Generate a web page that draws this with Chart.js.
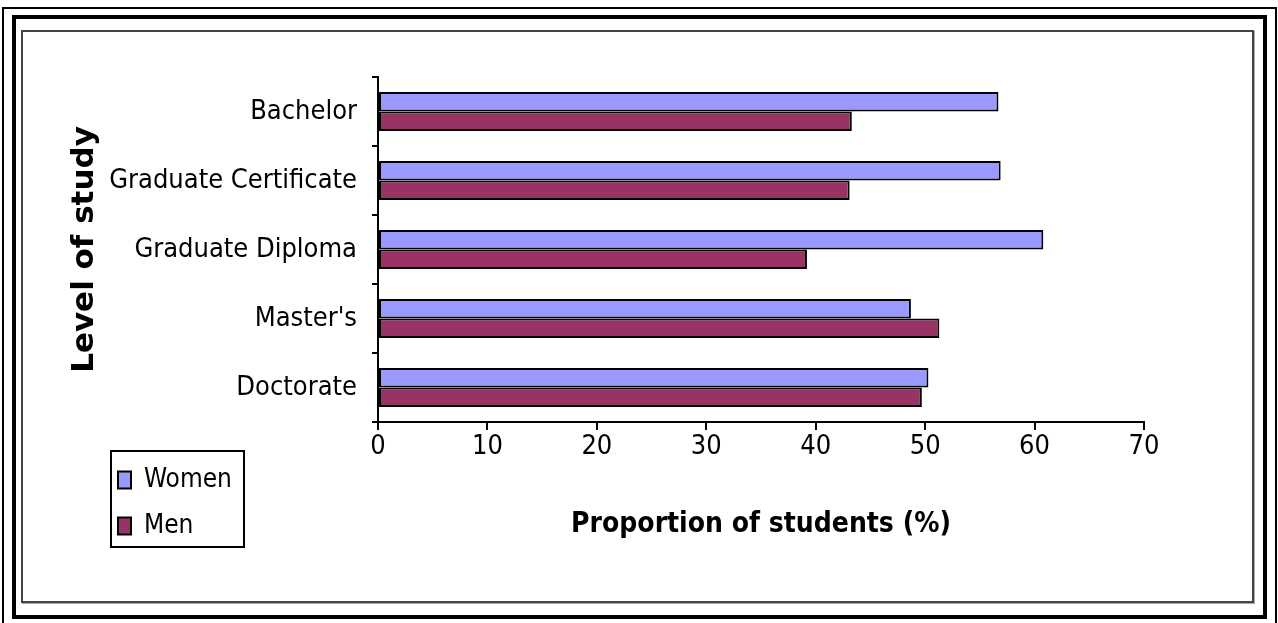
<!DOCTYPE html>
<html>
<head>
<meta charset="utf-8">
<script src="https://cdn.jsdelivr.net/npm/chart.js"></script>
<style>
  html, body { margin: 0; padding: 0; background: #fff; }
  body { width: 1278px; height: 623px; position: relative; overflow: hidden; }
  .frame { position: absolute; box-sizing: border-box; }
  #outer { left: 2px; top: 7px; width: 1275px; height: 630px; border: 2px solid #000; }
  #thick { left: 12px; top: 15px; width: 1255px; height: 604px; border: 4px solid #000; }
  #area { left: 21px; top: 30px; width: 1233px; height: 573px; border: 2px solid #444; box-shadow: 1px 1px 0 #aaa; }
  #chart { position: absolute; left: 0; top: 0; }
</style>
</head>
<body>
<div class="frame" id="outer"></div>
<div class="frame" id="thick"></div>
<div class="frame" id="area"></div>
<canvas id="chart" width="1278" height="623"></canvas>
<script>
const levels = ['Bachelor', 'Graduate Certificate', 'Graduate Diploma', "Master's", 'Doctorate'];
const women = [56.7, 56.9, 60.8, 48.7, 50.3];
const men = [43.3, 43.1, 39.2, 51.3, 49.7];
const xMin = 0;
const xMax = 70;
const xStep = 10;

Chart.defaults.font.family = '"DejaVu Sans Condensed", "DejaVu Sans", sans-serif';
Chart.defaults.color = '#000';

// legend sits in the lower left corner, inside a framed box
const legendSpot = {
  id: 'legendSpot',
  afterLayout(chart) {
    const lg = chart.legend;
    lg.left = 98;
    lg.top = 447;
    lg.right = lg.left + lg.width;
    lg.bottom = lg.top + lg.height;
  },
  afterDraw(chart) {
    const ctx = chart.ctx;
    ctx.save();
    ctx.strokeStyle = '#000';
    ctx.lineWidth = 2;
    ctx.strokeRect(111, 451, 133, 96);
    ctx.restore();
  }
};

new Chart(document.getElementById('chart'), {
  type: 'bar',
  data: {
    labels: levels,
    datasets: [
      {
        label: 'Women',
        data: women,
        backgroundColor: '#9999ff',
        borderColor: '#000',
        borderWidth: 2,
        borderSkipped: false,
        categoryPercentage: 0.565,
        barPercentage: 1
      },
      {
        label: 'Men',
        data: men,
        backgroundColor: '#993366',
        borderColor: '#000',
        borderWidth: 2,
        borderSkipped: false,
        categoryPercentage: 0.565,
        barPercentage: 1
      }
    ]
  },
  options: {
    indexAxis: 'y',
    responsive: false,
    animation: false,
    events: [],
    layout: { padding: { left: 22, top: 77, right: 134, bottom: 40 } },
    scales: {
      x: {
        min: xMin,
        max: xMax,
        ticks: { stepSize: xStep, font: { size: 27, lineHeight: 1 }, padding: 3, maxRotation: 0 },
        grid: { drawOnChartArea: false, tickLength: 8, color: '#000', lineWidth: 2 },
        border: { color: '#000', width: 2 },
        title: {
          display: true,
          text: 'Proportion of students (%)',
          font: { size: 28, weight: 'bold', lineHeight: 1 },
          padding: { top: 0, bottom: 44 }
        },
        afterFit(s) { s.height = 161; }
      },
      y: {
        ticks: { font: { size: 27, lineHeight: 1 }, padding: 15 },
        grid: { drawOnChartArea: false, tickLength: 6, color: '#000', lineWidth: 2 },
        border: { color: '#000', width: 2 },
        title: {
          display: true,
          text: 'Level of study',
          font: { family: '"DejaVu Sans", sans-serif', size: 31, weight: 'bold', lineHeight: 1 },
          padding: { top: 47, bottom: 0 }
        },
        afterFit(s) { s.width = 356; }
      }
    },
    plugins: {
      legend: {
        position: 'chartArea',
        align: 'start',
        labels: { boxWidth: 13, boxHeight: 17, padding: 20, font: { size: 26 } }
      },
      tooltip: { enabled: false }
    }
  },
  plugins: [legendSpot]
});
</script>
</body>
</html>
